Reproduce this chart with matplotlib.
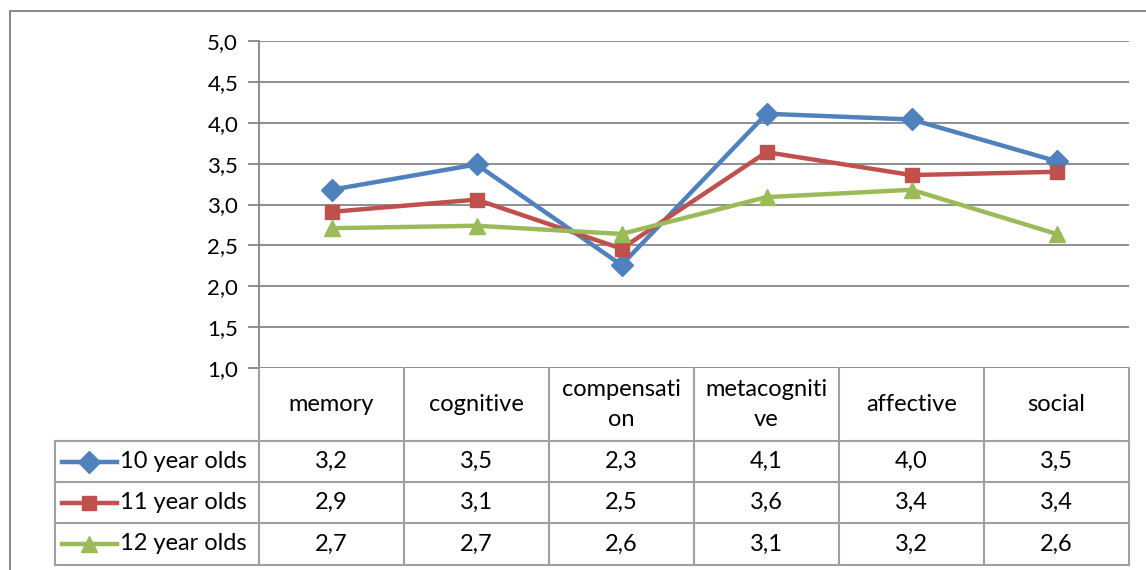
import matplotlib
matplotlib.use('Agg')
import matplotlib.pyplot as plt
from matplotlib.lines import Line2D
from matplotlib.patches import Rectangle
import matplotlib.transforms as mtransforms

plt.rcParams['font.family'] = ['Lato', 'DejaVu Sans']

# data
categories = ['memory', 'cognitive', 'compensati\non', 'metacogniti\nve', 'affective', 'social']
series_names = ['10 year olds', '11 year olds', '12 year olds']
age10 = [3.18, 3.49, 2.26, 4.11, 4.04, 3.53]
age11 = [2.91, 3.06, 2.46, 3.64, 3.36, 3.40]
age12 = [2.71, 2.74, 2.64, 3.09, 3.18, 2.64]
y_ticks = [1.0, 1.5, 2.0, 2.5, 3.0, 3.5, 4.0, 4.5, 5.0]

colors = ['#4F81BD', '#C0504D', '#9BBB59']
markers = ['D', 's', '^']
msizes = [11, 9.5, 12]
grid_c = '#868686'
table_c = '#A0A0A0'
fs = 17

W, H = 1146, 570
fig = plt.figure(figsize=(W / 100, H / 100), dpi=100)

def fx(px):
    return px / W

def fy(py):
    return 1 - py / H

ax_l, ax_r, ax_t, ax_b = 259, 1129, 41, 368
ax = fig.add_axes([fx(ax_l), fy(ax_b), fx(ax_r - ax_l), fy(ax_t) - fy(ax_b)])

xs = list(range(len(categories)))
for vals, c, m, ms in zip([age10, age11, age12], colors, markers, msizes):
    ax.plot(xs, vals, color=c, lw=3.2, marker=m, markersize=ms, zorder=3)

ax.set_xlim(-0.5, len(categories) - 0.5)
ax.set_ylim(1.0, 5.0)
ax.set_yticks(y_ticks)
ax.set_yticklabels([f"{t:.1f}".replace('.', ',') for t in y_ticks], fontsize=16)
ax.set_xticks([])
for t in y_ticks:
    ax.axhline(t, color=grid_c, lw=1.3, zorder=1)
for s in ['top', 'right', 'bottom']:
    ax.spines[s].set_visible(False)
ax.spines['left'].set_color(grid_c)
ax.spines['left'].set_linewidth(1.3)
ax.tick_params(axis='y', length=8, width=1.3, color=grid_c, pad=7)

# data table below the plot
trans = mtransforms.blended_transform_factory(ax.transData, fig.transFigure)
row_edges = [368, 441, 482, 523, 565]
left_px = 55

def hline(y, x0, x1):
    fig.add_artist(Line2D([fx(x0), fx(x1)], [fy(y), fy(y)], color=table_c, lw=1.5))

def vline(x, y0, y1):
    fig.add_artist(Line2D([fx(x), fx(x)], [fy(y0), fy(y1)], color=table_c, lw=1.5))

hline(441, left_px, ax_r)
hline(482, left_px, ax_r)
hline(523, left_px, ax_r)
hline(565, left_px, ax_r)
vline(left_px, 441, 565)
col_w = (ax_r - ax_l) / len(categories)
for i in range(len(categories) + 1):
    vline(ax_l + i * col_w, 368, 565)

for i, cat in enumerate(categories):
    ax.text(i, fy((368 + 441) / 2), cat, transform=trans, ha='center', va='center',
            fontsize=fs, linespacing=1.5)

for r, (name, vals, c, m, ms) in enumerate(zip(series_names, [age10, age11, age12],
                                                colors, markers, msizes)):
    yc = fy((row_edges[r + 1] + row_edges[r + 2]) / 2)
    fig.add_artist(Line2D([fx(62), fx(117)], [yc, yc], color=c, lw=3.2))
    fig.add_artist(Line2D([fx(89)], [yc], color=c, marker=m, markersize=ms, lw=0))
    fig.text(fx(120), yc, name, ha='left', va='center', fontsize=fs)
    for i, v in enumerate(vals):
        ax.text(i, yc, f"{v:.1f}".replace('.', ','), transform=trans,
                ha='center', va='center', fontsize=fs)

# outer chart border
fig.add_artist(Rectangle((fx(10), -0.1), 1.2, fy(11) + 0.1, transform=fig.transFigure,
                         fill=False, edgecolor='#7F7F7F', lw=1.3))

fig.savefig('out.png', dpi=100)
